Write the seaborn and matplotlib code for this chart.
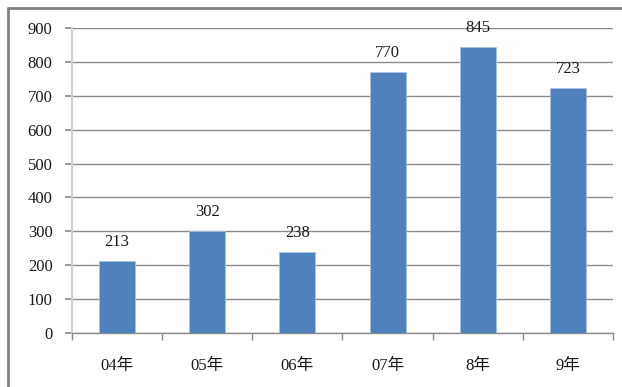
import matplotlib
matplotlib.use("Agg")
import matplotlib.pyplot as plt
from matplotlib.lines import Line2D
import seaborn as sns
import pandas as pd

categories = ["04年", "05年", "06年", "07年", "8年", "9年"]
values = [213, 302, 238, 770, 845, 723]
yticks = [0, 100, 200, 300, 400, 500, 600, 700, 800, 900]

sns.set_theme(style="white")
plt.rcParams['font.family'] = ['Liberation Serif', 'Noto Sans CJK JP', 'DejaVu Sans']

W, H = 622, 387
fig = plt.figure(figsize=(W / 100, H / 100), dpi=100)
fig.patch.set_facecolor("white")
ax = fig.add_axes([72 / W, 54 / H, (613 - 72) / W, (333 - 28) / H])

df = pd.DataFrame({"cat": categories, "val": values})
sns.barplot(data=df, x="cat", y="val", color="#4F81BD", width=0.4,
            saturation=1, ax=ax, zorder=3, edgecolor="#A9C1E0", linewidth=0.6)

ax.set_ylim(0, 900)
ax.set_xlim(-0.5, len(categories) - 0.5)
ax.set_yticks(yticks)
ax.set_yticklabels([str(t) for t in yticks])
ax.yaxis.grid(True, color="#8C8C8C", linewidth=1.0, zorder=0)
ax.set_axisbelow(True)
ax.set_xlabel("")
ax.set_ylabel("")

for s in ["top", "right"]:
    ax.spines[s].set_visible(False)
ax.spines["left"].set_color("#D0D0D0")
ax.spines["left"].set_linewidth(1.5)
ax.spines["bottom"].set_color("#8C8C8C")
ax.spines["bottom"].set_linewidth(1.0)

ax.tick_params(axis="y", which="major", left=True, length=5, color="#8C8C8C",
               labelsize=12, pad=9, labelcolor="#1A1A1A")
ax.set_xticks([i - 0.5 for i in range(len(categories) + 1)], minor=True)
ax.tick_params(axis="x", which="major", bottom=False, labelsize=12, pad=12,
               labelcolor="#1A1A1A")
ax.tick_params(axis="x", which="minor", bottom=True, length=5, color="#8C8C8C")

for i, v in enumerate(values):
    ax.annotate(str(v), (i, v), xytext=(0, 8), textcoords="offset points",
                ha="center", va="bottom", fontsize=12, color="#1A1A1A")

# outer frame (top and left edges visible)
fig.add_artist(Line2D([8 / W, 1], [1 - 8 / H, 1 - 8 / H], transform=fig.transFigure,
                      color="#808080", linewidth=2))
fig.add_artist(Line2D([8 / W, 8 / W], [0, 1 - 8 / H], transform=fig.transFigure,
                      color="#808080", linewidth=2))

fig.savefig("out.png", dpi=100)
